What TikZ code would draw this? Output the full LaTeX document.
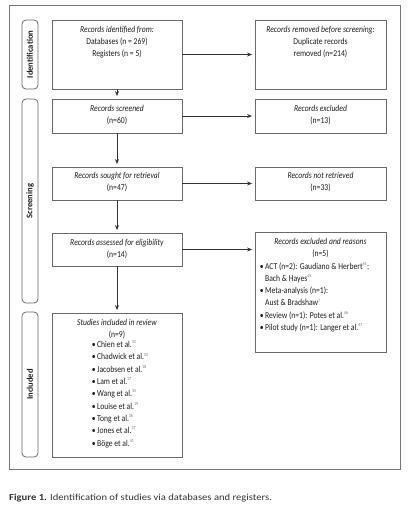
\documentclass[tikz,border=0pt]{standalone}
\usepackage{fontspec}
\setmainfont{Carlito}
\newfontfamily\boxfont{Carlito}[FakeStretch=0.85]
\newfontfamily\capfont{Carlito}[FakeStretch=1.14]
\usetikzlibrary{arrows.meta,calc}
\definecolor{txtc}{HTML}{1E1E1E}
\definecolor{edgec}{HTML}{6A6A6A}
\definecolor{framec}{HTML}{767676}
\definecolor{connc}{HTML}{333333}
\newcommand{\sref}[1]{\textsuperscript{\fontsize{4.6}{5}\selectfont\color{black!55}#1}}
\newcommand{\bul}{\textbullet\,}
\begin{document}
\begin{tikzpicture}[x=1pt,y=-1pt,
  box/.style={draw=edgec, line width=0.8pt, inner sep=0pt, fill=white},
  lbox/.style={box, minimum width=130pt},
  rbox/.style={box, minimum width=131pt},
  btxt/.style={font=\boxfont\fontsize{9}{12.3}\selectfont, text=txtc, align=center, inner sep=0pt, anchor=north},
  ltxt/.style={font=\boxfont\fontsize{9}{12.3}\selectfont, text=txtc, align=left, inner sep=0pt, anchor=north west},
  phase/.style={draw=edgec, line width=0.8pt, rounded corners=4pt, rotate=90, minimum height=16pt, inner sep=0pt,
    font=\bfseries\fontsize{8.6}{10}\selectfont, text=txtc},
  conn/.style={draw=connc, line width=0.8pt, -{Stealth[length=5pt,width=4pt]}, shorten >=2.5pt}
]
\useasboundingbox (0,0) rectangle (420,509);
% outer frame
\draw[framec, line width=0.9pt] (9,5) rectangle (400,469);

% phase labels
\node[phase, minimum width=69pt] (ph1) at (30,54.5) {Identification};
\node[phase, minimum width=204pt] (ph2) at (30,201) {Screening};
\node[phase, minimum width=145pt] (ph3) at (30,384.5) {Included};

% left boxes
\node[lbox, minimum height=69pt] (b1) at (117,54.5) {};
\node[lbox, minimum height=34pt] (b2) at (117,116) {};
\node[lbox, minimum height=33pt] (b3) at (117,183.5) {};
\node[lbox, minimum height=33pt] (b4) at (117,249.5) {};
\node[lbox, minimum height=144pt] (b5) at (117,385) {};
% right boxes
\node[rbox, minimum height=69pt] (r1) at (320.5,54.5) {};
\node[rbox, minimum height=34pt] (r2) at (320.5,116) {};
\node[rbox, minimum height=33pt] (r3) at (320.5,183.5) {};
\node[rbox, minimum height=120pt] (r4) at (320.5,292) {};

% texts
\node[btxt] (t1) at ([yshift=-6pt]b1.north) {\textit{Records identified from:}\\Databases (n = 269)\\Registers (n = 5)};
\node[btxt] (u1) at ([yshift=-6pt]r1.north) {\textit{Records removed before screening:}\\Duplicate records\\removed (n=214)};
\node[btxt] (t2) at ([yshift=-6pt]b2.north) {\textit{Records screened}\\(n=60)};
\node[btxt] (u2) at ([yshift=-6pt]r2.north) {\textit{Records excluded}\\(n=13)};
\node[btxt] (t3) at ([yshift=-5pt]b3.north) {\textit{Records sought for retrieval}\\(n=47)};
\node[btxt] (u3) at ([yshift=-5pt]r3.north) {\textit{Records not retrieved}\\(n=33)};
\node[btxt] (t4) at ([yshift=-6pt]b4.north) {\textit{Records assessed for eligibility}\\(n=14)};
\node[btxt] (u4) at ([yshift=-6pt]r4.north) {\textit{Records excluded and reasons}\\(n=5)};
\node[ltxt] (u4l) at ([xshift=5pt,yshift=-30.5pt]r4.north west) {\bul ACT (n=2): Gaudiano \& Herbert\sref{44};\\
\phantom{\bul}Bach \& Hayes\sref{45}\\
\bul Meta-analysis (n=1):\\
\phantom{\bul}Aust \& Bradshaw\sref{7}\\
\bul Review (n=1): Potes et al.\sref{46}\\
\bul Pilot study (n=1): Langer et al.\sref{47}};
\node[btxt] (t5) at ([yshift=-6pt]b5.north) {\textit{Studies included in review}\\(n=9)};
\node[ltxt] (t5l) at ([xshift=40pt,yshift=-28pt]b5.north west) {\bul Chien et al.\sref{33}\\
\bul Chadwick et al.\sref{34}\\
\bul Jacobsen et al.\sref{18}\\
\bul Lam et al.\sref{17}\\
\bul Wang et al.\sref{35}\\
\bul Louise et al.\sref{19}\\
\bul Tong et al.\sref{36}\\
\bul Jones et al.\sref{37}\\
\bul Böge et al.\sref{41}};

% connectors
\draw[conn] (b1.south) -- (b2.north);
\draw[conn] (b2.south) -- (b3.north);
\draw[conn] (b3.south) -- (b4.north);
\draw[conn] (b4.south) -- (b5.north);
\draw[conn] (b1.east) -- (r1.west);
\draw[conn] (b2.east) -- (r2.west);
\draw[conn] (b3.east) -- (r3.west);
\draw[conn] (b4.east) -- (b4.east -| r4.west);

% caption
\node[anchor=west, inner sep=0pt, font=\capfont\fontsize{9.3}{10}\selectfont, text=black!80] (cap) at (9,498)
  {\textbf{Figure 1.} Identification of studies via databases and registers.};
\end{tikzpicture}
\end{document}
